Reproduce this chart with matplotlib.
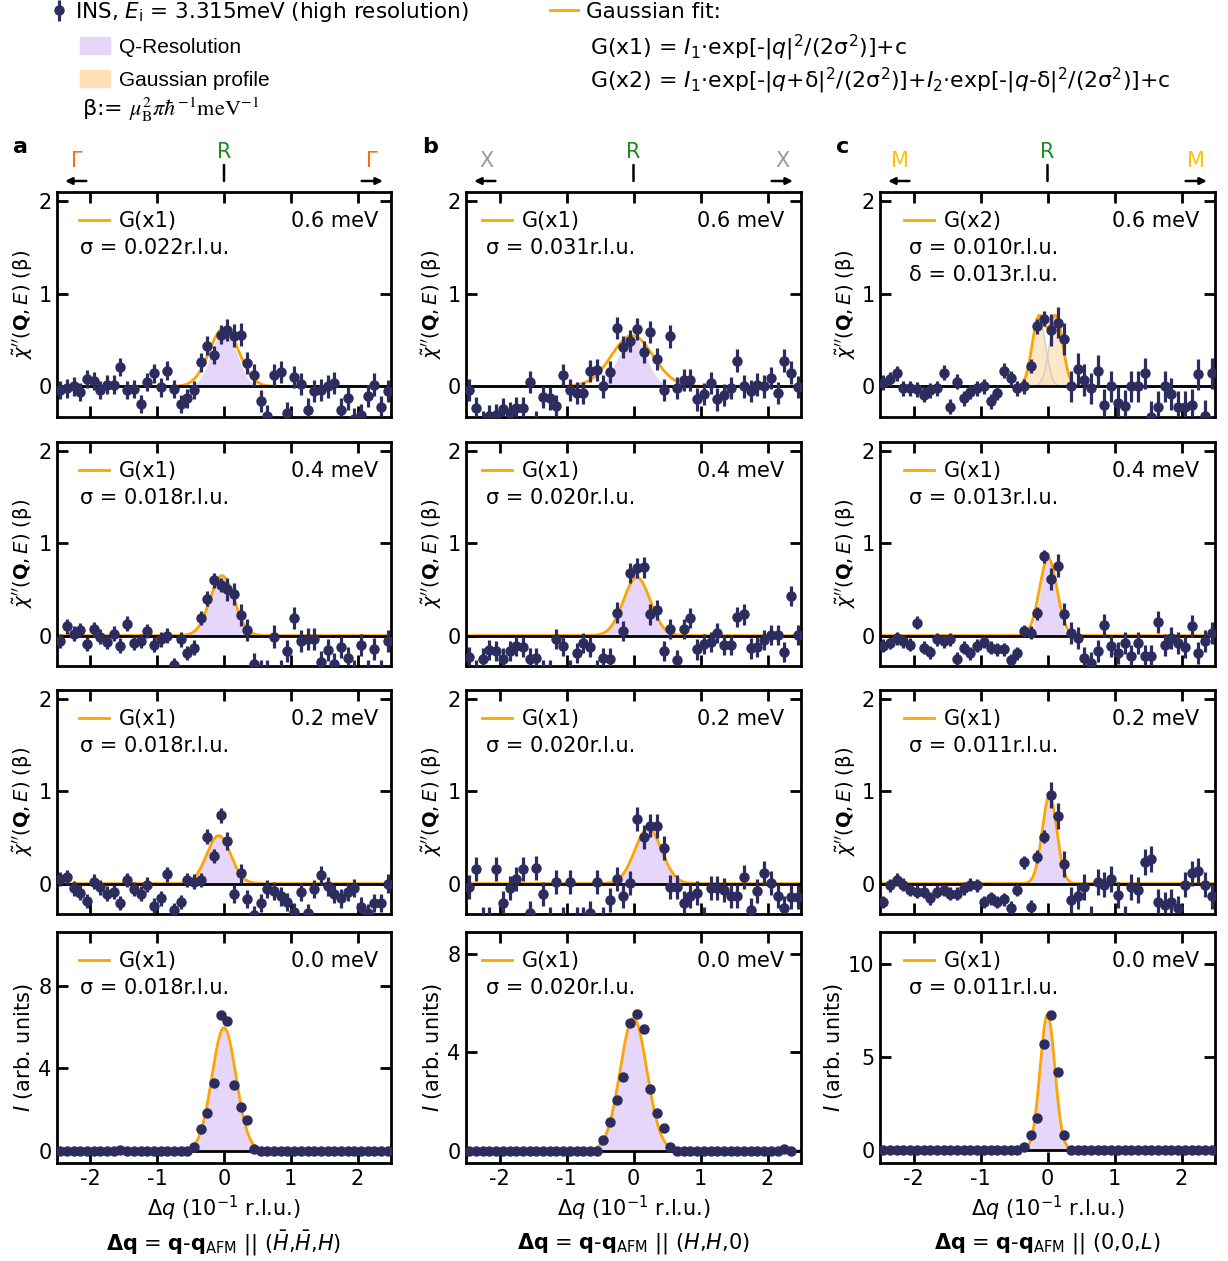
import numpy as np
import matplotlib.pyplot as plt
from matplotlib.lines import Line2D
from matplotlib.patches import Patch

plt.rcParams['font.family'] = ['DejaVu Sans']
plt.rcParams['mathtext.fontset'] = 'dejavusans'
plt.rcParams['axes.unicode_minus'] = False

W, H = 1228, 1261
FS = 15

# momentum grid, 10^-1 r.l.u.
q = [-2.45, -2.35, -2.25, -2.15, -2.05, -1.95, -1.85, -1.75, -1.65, -1.55,
     -1.45, -1.35, -1.25, -1.15, -1.05, -0.95, -0.85, -0.75, -0.65, -0.55,
     -0.45, -0.35, -0.25, -0.15, -0.05, 0.05, 0.15, 0.25, 0.35, 0.45,
     0.55, 0.65, 0.75, 0.85, 0.95, 1.05, 1.15, 1.25, 1.35, 1.45,
     1.55, 1.65, 1.75, 1.85, 1.95, 2.05, 2.15, 2.25, 2.35, 2.45]

# chi'' (beta), column a = (-H,-H,H), b = (H,H,0), c = (0,0,L)
a_06 = [-0.04, -0.02, 0.00, -0.06, 0.08, 0.06, -0.04, 0.02, 0.02, 0.21,
        -0.04, -0.03, -0.19, 0.05, 0.14, -0.01, 0.17, -0.03, -0.19, -0.13,
        -0.04, 0.26, 0.44, 0.34, 0.56, 0.61, 0.55, 0.56, 0.25, 0.12,
        -0.16, -0.32, 0.12, 0.16, -0.29, 0.10, 0.03, -0.25, -0.05, -0.04,
        0.00, 0.04, -0.25, -0.13, -0.35, -0.31, -0.10, 0.02, -0.22, -0.05]
b_06 = [-0.04, -0.23, -0.38, -0.32, -0.31, -0.24, -0.29, -0.23, -0.23, 0.05,
        -0.38, -0.11, -0.13, -0.21, 0.12, -0.04, -0.07, -0.07, 0.17, 0.18,
        0.00, 0.16, 0.63, 0.43, 0.49, 0.62, 0.37, 0.59, 0.30, -0.04,
        0.54, -0.02, 0.07, 0.07, -0.14, -0.08, 0.04, -0.14, -0.09, -0.02,
        0.28, 0.00, -0.05, 0.02, 0.00, 0.09, -0.07, 0.28, 0.15, -0.01]
c_06 = [0.04, 0.08, 0.14, -0.02, -0.02, -0.03, -0.09, -0.04, -0.02, 0.15,
        -0.22, 0.05, -0.13, -0.06, -0.02, 0.00, -0.16, -0.07, 0.17, 0.09,
        -0.02, 0.00, 0.22, 0.65, 0.73, 0.61, 0.69, 0.51, 0.00, 0.19,
        0.07, -0.02, 0.17, -0.20, 0.00, -0.18, -0.21, 0.00, 0.00, 0.14,
        -0.33, -0.22, 0.00, -0.08, -0.22, -0.22, -0.20, 0.13, -0.32, 0.14]
a_04 = [-0.06, 0.10, 0.02, 0.06, -0.09, 0.07, -0.01, -0.07, 0.02, -0.11,
        0.13, -0.08, -0.06, 0.05, -0.10, -0.04, 0.00, -0.32, -0.04, -0.19,
        -0.13, 0.19, 0.40, 0.60, 0.55, 0.50, 0.45, 0.22, 0.06, -0.31,
        -0.38, -0.38, -0.01, -0.38, -0.17, 0.19, -0.06, -0.04, -0.04, -0.29,
        -0.16, -0.31, -0.12, -0.24, -0.38, -0.10, -0.38, -0.15, -0.38, -0.06]
b_04 = [-0.23, -0.38, -0.25, -0.16, -0.17, -0.25, -0.17, -0.11, -0.12, -0.25,
        -0.24, -0.38, -0.38, -0.04, -0.11, -0.38, -0.19, -0.08, -0.12, -0.38,
        -0.24, -0.25, 0.25, 0.05, 0.68, 0.73, 0.74, 0.23, 0.28, -0.17,
        0.07, -0.27, 0.07, 0.19, -0.15, -0.09, -0.07, 0.03, -0.10, -0.10,
        0.20, 0.23, -0.14, -0.12, -0.05, 0.01, 0.01, -0.18, 0.43, 0.01]
c_04 = [-0.11, -0.08, -0.03, -0.06, -0.10, 0.14, -0.13, -0.18, -0.04, -0.06,
        -0.04, -0.25, -0.13, -0.19, -0.11, -0.07, -0.13, -0.15, -0.15, -0.27,
        -0.19, 0.05, 0.03, 0.24, 0.86, 0.61, 0.76, 0.23, 0.03, -0.03,
        -0.24, -0.30, -0.17, 0.11, -0.11, -0.19, -0.08, -0.22, -0.08, -0.22,
        -0.22, 0.15, -0.10, -0.03, -0.08, -0.12, 0.10, -0.19, -0.06, 0.03]
a_02 = [0.05, 0.07, -0.05, -0.10, -0.19, 0.02, -0.04, -0.11, -0.09, -0.21,
        0.04, -0.06, -0.11, -0.01, -0.24, -0.16, 0.10, -0.29, -0.20, 0.04,
        0.02, 0.04, 0.51, 0.30, 0.74, 0.46, -0.11, 0.11, -0.17, -0.34,
        -0.21, -0.06, -0.08, -0.14, -0.20, -0.31, -0.09, -0.32, -0.06, 0.09,
        -0.03, -0.11, -0.16, -0.09, -0.05, -0.25, -0.32, -0.21, -0.21, 0.00]
b_02 = [-0.04, 0.16, -0.38, -0.38, 0.16, -0.21, -0.05, 0.05, 0.16, -0.32,
        0.17, -0.11, -0.38, 0.02, -0.38, 0.02, -0.38, -0.38, -0.32, 0.02,
        -0.38, -0.18, 0.05, -0.13, 0.01, 0.70, 0.51, 0.63, 0.62, 0.39,
        -0.04, -0.04, -0.21, -0.13, -0.10, -0.38, -0.05, -0.05, -0.07, -0.13,
        -0.13, 0.07, -0.29, -0.08, 0.12, 0.01, -0.13, -0.27, -0.15, -0.15]
c_02 = [-0.20, -0.02, 0.04, -0.01, -0.07, -0.09, -0.09, -0.16, -0.09, -0.07,
        -0.11, -0.11, -0.05, -0.01, -0.02, -0.20, -0.16, -0.20, -0.17, -0.26,
        -0.07, 0.23, -0.25, 0.29, 0.51, 0.96, 0.73, 0.21, -0.18, -0.14,
        -0.04, -0.38, 0.02, -0.01, 0.05, -0.12, -0.38, -0.04, -0.07, 0.23,
        0.27, -0.20, -0.23, -0.20, -0.27, -0.01, 0.11, 0.14, -0.01, -0.14]

# elastic intensity (arb. units)
a_00 = [0.0, 0.0, 0.0, 0.0, 0.0, 0.0, 0.0, 0.0, 0.0, 0.05,
        0.0, 0.0, 0.0, 0.0, 0.0, 0.0, 0.0, 0.0, 0.0, 0.0,
        0.2, 1.06, 1.82, 3.3, 6.6, 6.3, 3.2, 2.1, 1.5, 0.1,
        0.0, 0.0, 0.0, 0.0, 0.0, 0.0, 0.0, 0.0, 0.0, 0.0,
        0.0, 0.0, 0.0, 0.0, 0.0, 0.0, 0.0, 0.0, 0.0, 0.0]
b_00 = [0.0, 0.0, 0.0, 0.0, 0.0, 0.0, 0.0, 0.0, 0.0, 0.0,
        0.0, 0.0, 0.0, 0.0, 0.0, 0.0, 0.0, 0.0, 0.0, 0.0,
        0.44, 1.16, 2.08, 2.99, 5.18, 5.55, 4.96, 2.53, 1.53, 0.93,
        0.16, 0.0, 0.0, 0.0, 0.0, 0.0, 0.0, 0.0, 0.0, 0.0,
        0.0, 0.0, 0.0, 0.0, 0.0, 0.0, 0.0, 0.08, 0.0, np.nan]
c_00 = [0.0, 0.0, 0.0, 0.0, 0.0, 0.0, 0.0, 0.0, 0.0, 0.0,
        0.0, 0.0, 0.0, 0.0, 0.0, 0.0, 0.0, 0.0, 0.0, 0.0,
        0.0, 0.18, 0.81, 1.71, 5.73, 7.3, 4.23, 0.81, 0.0, 0.0,
        0.0, 0.0, 0.0, 0.0, 0.0, 0.0, 0.0, 0.0, 0.0, 0.0,
        0.0, 0.0, 0.0, 0.0, 0.0, 0.0, 0.0, 0.0, 0.0, 0.0]

# error bars (beta)
err_a06 = [0.10] * 25 + [0.12] * 25
err_b06 = [0.12] * 50
err_c06 = [0.08] * 25 + [0.17] * 25
err_a04 = [0.08] * 25 + [0.12] * 25
err_b04 = [0.11] * 50
err_c04 = [0.07] * 25 + [0.12] * 25
err_a02 = [0.08] * 25 + [0.10] * 25
err_b02 = [0.13] * 50
err_c02 = [0.07] * 25 + [0.14] * 25

# Gaussian fits: amplitude, centre, sigma (10^-1 r.l.u.)
fit_a = [(0.63, 0.00, 0.22), (0.65, -0.03, 0.18), (0.52, -0.08, 0.18), (5.95, 0.00, 0.18)]
fit_b = [(0.55, -0.02, 0.31), (0.63, 0.05, 0.20), (0.60, 0.22, 0.20), (5.40, 0.00, 0.20)]
fit_c = [(0.74, 0.00, 0.10), (0.84, 0.01, 0.13), (0.95, 0.03, 0.11), (7.30, 0.00, 0.11)]
delta_c06 = 0.13
res_sigma = [0.18, 0.20, 0.11]

sigma_a = ['0.022', '0.018', '0.018', '0.018']
sigma_b = ['0.031', '0.020', '0.020', '0.020']
sigma_c = ['0.010', '0.013', '0.011', '0.011']
energies = ['0.6 meV', '0.4 meV', '0.2 meV', '0.0 meV']

DOT = '#2c2c5e'
ORANGE = '#ffa500'
LAV = '#e6d6f9'
PEACH = '#fde0b8'

cols = [(57, 391), (466, 801), (880, 1215)]
rows = [(192, 417), (442, 666), (690, 914), (932, 1163)]
# in-panel text offsets (pixels): legend, sigma text, energy label from right
text_dx = [(22, 23, 13), (16, 20, 17), (24, 29, 16)]

data = [[a_06, a_04, a_02, a_00], [b_06, b_04, b_02, b_00], [c_06, c_04, c_02, c_00]]
errs = [[err_a06, err_a04, err_a02, None], [err_b06, err_b04, err_b02, None],
        [err_c06, err_c04, err_c02, None]]
fits = [fit_a, fit_b, fit_c]
sigmas = [sigma_a, sigma_b, sigma_c]
ylims4 = [(-0.6, 10.6), (-0.5, 8.9), (-0.7, 11.75)]
yticks4 = [[0, 4, 8], [0, 4, 8], [0, 5, 10]]
paths = [r'($\bar{H}$,$\bar{H}$,$H$)', r'($H$,$H$,0)', r'(0,0,$L$)']
sym = [('Γ', '#ff6a13'), ('X', '#9a9a9a'), ('M', '#ffc000')]
letters = ['a', 'b', 'c']

fig = plt.figure(figsize=(W / 100, H / 100), dpi=100)
qq = np.linspace(-2.5, 2.5, 601)
ins_handle = None

for ci, (x0, x1) in enumerate(cols):
    dl, ds, de = text_dx[ci]
    for ri, (y0, y1) in enumerate(rows):
        ax = fig.add_axes([x0 / W, 1 - y1 / H, (x1 - x0) / W, (y1 - y0) / H])
        hpx = y1 - y0
        wpx = x1 - x0
        amp, cen, sig = fits[ci][ri]
        if ci == 2 and ri == 0:
            g1 = amp * np.exp(-(qq + delta_c06 - cen) ** 2 / (2 * sig ** 2))
            g2 = amp * np.exp(-(qq - delta_c06 - cen) ** 2 / (2 * sig ** 2))
            for g in (g1, g2):
                ax.fill_between(qq, 0, g, color=PEACH, alpha=0.75, lw=0, zorder=1)
                ax.plot(qq, g, color='#cccccc', lw=1, zorder=1.5)
            curve = g1 + g2
            label = 'G(x2)'
        else:
            rs = res_sigma[ci]
            ax.fill_between(qq, 0, amp * np.exp(-(qq - cen) ** 2 / (2 * rs ** 2)),
                            color=LAV, lw=0, zorder=1)
            curve = amp * np.exp(-(qq - cen) ** 2 / (2 * sig ** 2))
            label = 'G(x1)'
        ax.plot(qq, curve, color=ORANGE, lw=2, zorder=2)
        ax.axhline(0, color='k', lw=2, zorder=2.5)

        y = data[ci][ri]
        e = errs[ci][ri]
        if e is not None:
            cont = ax.errorbar(q, y, yerr=e, fmt='o', color=DOT, ms=6.5,
                               elinewidth=2.3, capsize=0, zorder=3)
            if ins_handle is None:
                ins_handle = cont
            ax.set_ylim(-0.33, 2.1)
            ax.set_yticks([0, 1, 2])
            ax.set_ylabel(r"$\tilde{\chi}''(\mathbf{Q}, E)$ (β)", fontsize=14, labelpad=2)
        else:
            ax.plot(q, y, 'o', color=DOT, ms=6.5, zorder=3)
            ax.set_ylim(*ylims4[ci])
            ax.set_yticks(yticks4[ci])
            ax.set_ylabel(r'$I$ (arb. units)', fontsize=15, labelpad=2)

        ax.set_xlim(-2.5, 2.5)
        ax.set_xticks([-2, -1, 0, 1, 2])
        ax.tick_params(direction='in', length=8, width=2, top=True, right=True,
                       labelsize=FS, pad=4)
        for s in ax.spines.values():
            s.set_linewidth(2)
        if ri < 3:
            ax.tick_params(labelbottom=False)
        else:
            ax.set_xlabel(r'$\Delta q$ (10$^{-1}$ r.l.u.)', fontsize=FS, labelpad=4)
            ax.text(0.5, -80 / hpx,
                    r'$\mathbf{\Delta q}$ = $\mathbf{q}$-$\mathbf{q}_{\mathrm{AFM}}$ || ' + paths[ci],
                    transform=ax.transAxes, ha='center', va='center', fontsize=FS)

        # panel texts
        ax.legend([Line2D([], [], color=ORANGE, lw=2)], [label], loc='center left',
                  bbox_to_anchor=(dl / wpx, 1 - 29 / hpx), frameon=False, fontsize=FS,
                  borderpad=0, borderaxespad=0, handlelength=1.45, handletextpad=0.45)
        ax.text(1 - de / wpx, 1 - 29 / hpx, energies[ri], transform=ax.transAxes,
                ha='right', va='center', fontsize=FS)
        ax.text(ds / wpx, 1 - 56 / hpx, 'σ = ' + sigmas[ci][ri] + 'r.l.u.',
                transform=ax.transAxes, ha='left', va='center', fontsize=FS)
        if ci == 2 and ri == 0:
            ax.text(ds / wpx, 1 - 83 / hpx, 'δ = 0.013r.l.u.',
                    transform=ax.transAxes, ha='left', va='center', fontsize=FS)

        if ri == 0:
            name, col = sym[ci]
            yarr = 1 + 11 / hpx
            ax.annotate('', xy=(-2.42, yarr), xytext=(-2.02, yarr),
                        xycoords=('data', 'axes fraction'), annotation_clip=False,
                        arrowprops=dict(arrowstyle='-|>', color='k', lw=1.8, mutation_scale=10))
            ax.annotate('', xy=(2.42, yarr), xytext=(2.02, yarr),
                        xycoords=('data', 'axes fraction'), annotation_clip=False,
                        arrowprops=dict(arrowstyle='-|>', color='k', lw=1.8, mutation_scale=10))
            ax.annotate('', xy=(0, yarr), xytext=(0, 1 + 27 / hpx),
                        xycoords=('data', 'axes fraction'), annotation_clip=False,
                        arrowprops=dict(arrowstyle='-', color='k', lw=1.8,
                                        shrinkA=0, shrinkB=0))
            ax.text(-2.2, 1 + 31 / hpx, name, color=col, fontsize=FS,
                    transform=ax.get_xaxis_transform(), ha='center', va='center')
            ax.text(2.22, 1 + 31 / hpx, name, color=col, fontsize=FS,
                    transform=ax.get_xaxis_transform(), ha='center', va='center')
            ax.text(0, 1 + 40 / hpx, 'R', color='#1e8c1e', fontsize=FS,
                    transform=ax.get_xaxis_transform(), ha='center', va='center')
            fig.text((x0 - 44) / W, 1 - 147 / H, letters[ci], fontsize=16,
                     fontweight='bold', ha='left', va='center')

# global legend block
fig.legend([ins_handle], [r'INS, $E_{\rm i}$ = 3.315meV (high resolution)'],
           loc='center left', bbox_to_anchor=(50 / W, 1 - 12 / H), frameon=False,
           fontsize=15.5, borderpad=0, borderaxespad=0, handlelength=0.8,
           handletextpad=0.35)
fig.legend([Patch(color=LAV)], ['Q-Resolution'], loc='center left',
           bbox_to_anchor=(80 / W, 1 - 47 / H), frameon=False,
           prop={'family': 'Liberation Sans', 'size': 15}, borderpad=0,
           borderaxespad=0, handlelength=1.45, handleheight=0.85, handletextpad=0.4)
fig.legend([Patch(color=PEACH)], ['Gaussian profile'], loc='center left',
           bbox_to_anchor=(80 / W, 1 - 80 / H), frameon=False,
           prop={'family': 'Liberation Sans', 'size': 15}, borderpad=0,
           borderaxespad=0, handlelength=1.45, handleheight=0.85, handletextpad=0.4)
fig.text(82 / W, 1 - 110 / H, r'β:= $\mu_{\rm B}^{2}\pi\hbar^{-1}{\rm meV}^{-1}$',
         fontsize=16, ha='left', va='center', math_fontfamily='stix')
fig.legend([Line2D([], [], color=ORANGE, lw=2)], ['Gaussian fit:'], loc='center left',
           bbox_to_anchor=(550 / W, 1 - 12 / H), frameon=False, fontsize=15.5,
           borderpad=0, borderaxespad=0, handlelength=1.3, handletextpad=0.35)
fig.text(590 / W, 1 - 48 / H,
         r'G(x1) = $I_1$·exp[-|$q$|$^2$/(2σ$^2$)]+c',
         fontsize=15.8, ha='left', va='center')
fig.text(590 / W, 1 - 81 / H,
         r'G(x2) = $I_1$·exp[-|$q$+δ|$^2$/(2σ$^2$)]+$I_2$·exp[-|$q$-δ|$^2$/(2σ$^2$)]+c',
         fontsize=15.8, ha='left', va='center')

fig.savefig('out.png', dpi=100)
